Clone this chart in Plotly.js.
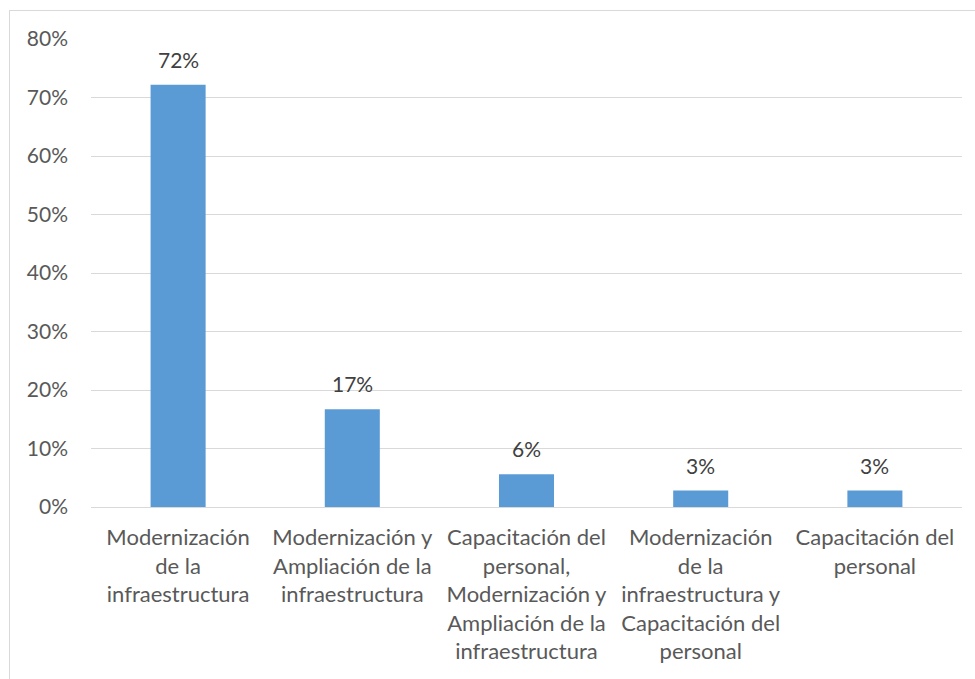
<!DOCTYPE html>
<html>
<head>
<meta charset="utf-8">
<script src="https://cdn.plot.ly/plotly-3.0.1.min.js"></script>
<style>
  html, body { margin: 0; padding: 0; background: #ffffff; }
  #frame { position: absolute; left: 9px; top: 10px; width: 1200px; height: 1200px;
           border-left: 1px solid #d9d9d9; border-top: 1px solid #d9d9d9; }
  #chart { position: absolute; left: 0; top: 0; width: 975px; height: 679px; }
</style>
</head>
<body>
<div id="frame"></div>
<div id="chart"></div>
<script>
const categories = [
  "Modernización<br>de la<br>infraestructura",
  "Modernización y<br>Ampliación de la<br>infraestructura",
  "Capacitación del<br>personal,<br>Modernización y<br>Ampliación de la<br>infraestructura",
  "Modernización<br>de la<br>infraestructura y<br>Capacitación del<br>personal",
  "Capacitación del<br>personal"
];
const values = [0.722, 0.167, 0.056, 0.028, 0.028];
const valueLabels = ["72%", "17%", "6%", "3%", "3%"];
const yTickVals = [0, 0.1, 0.2, 0.3, 0.4, 0.5, 0.6, 0.7, 0.8];
const yTickText = ["0%", "10%", "20%", "30%", "40%", "50%", "60%", "70%", "80%"];

const FONT = "Lato, 'Open Sans', sans-serif";

const trace = {
  type: "bar",
  x: categories,
  y: values,
  marker: { color: "#5b9bd5" },
  hoverinfo: "none"
};

const annotations = categories.map((c, i) => ({
  x: c, y: values[i], xref: "x", yref: "y",
  text: valueLabels[i], showarrow: false,
  yanchor: "bottom", yshift: 11,
  font: { family: FONT, size: 21, color: "#404040" }
}));

const layout = {
  width: 975, height: 679,
  margin: { l: 91, r: 13, t: 39, b: 172, pad: 0 },
  paper_bgcolor: "rgba(0,0,0,0)",
  plot_bgcolor: "rgba(0,0,0,0)",
  bargap: 0.684,
  showlegend: false,
  font: { family: FONT, size: 22, color: "#595959" },
  xaxis: {
    type: "category",
    showgrid: false,
    showline: false,
    ticks: "",
    tickangle: 0,
    ticklabelstandoff: 15,
    tickfont: { family: FONT, size: 22, color: "#595959" }
  },
  yaxis: {
    range: [0, 0.8],
    tickvals: yTickVals,
    ticktext: yTickText,
    showgrid: true,
    gridcolor: "#d9d9d9",
    gridwidth: 1,
    zeroline: true,
    zerolinecolor: "#d9d9d9",
    zerolinewidth: 1,
    showline: false,
    ticks: "",
    ticklabelstandoff: 22,
    tickfont: { family: FONT, size: 21, color: "#595959" }
  },
  annotations: annotations
};

Plotly.newPlot("chart", [trace], layout, { displayModeBar: false, staticPlot: true });
</script>
</body>
</html>
